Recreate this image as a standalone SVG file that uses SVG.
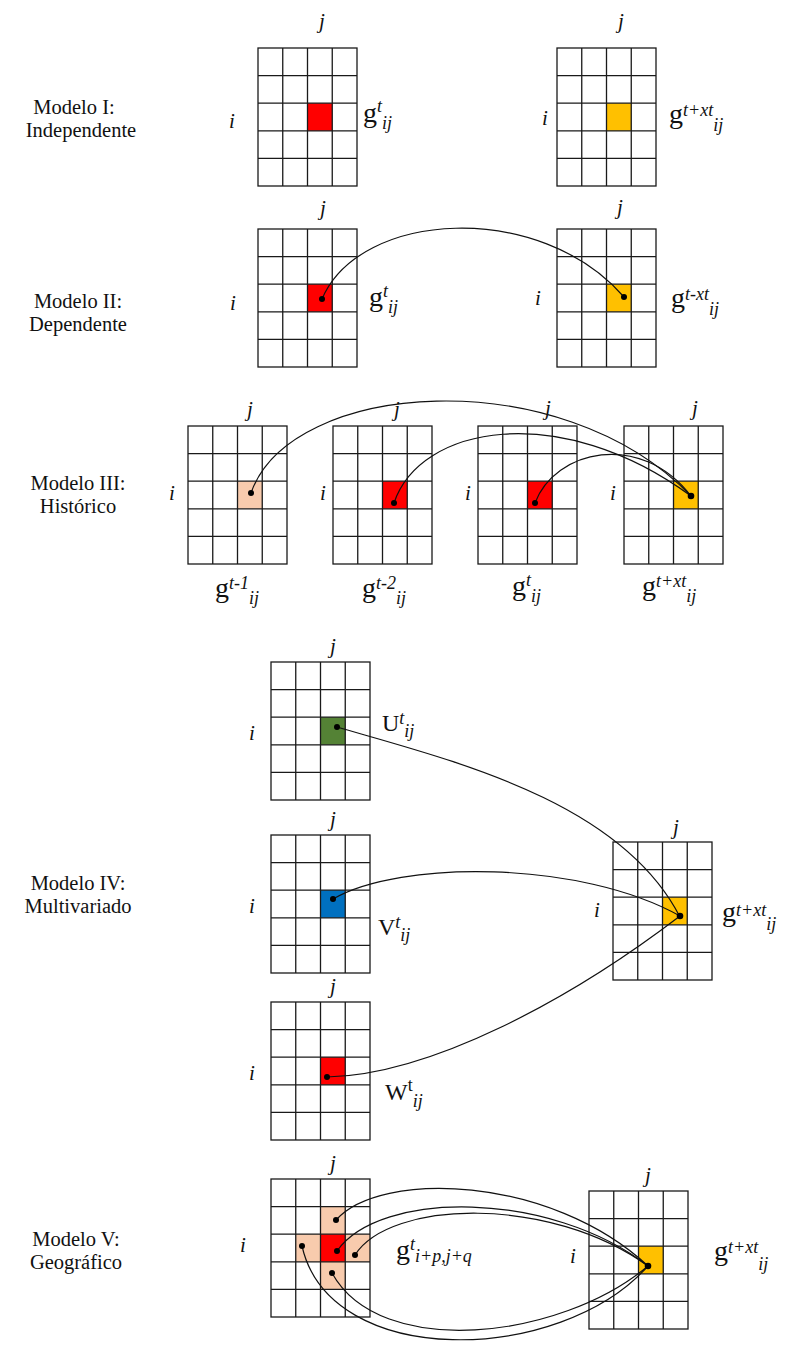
<svg xmlns="http://www.w3.org/2000/svg" xmlns:xlink="http://www.w3.org/1999/xlink" width="791" height="1348" viewBox="0 0 791 1348">
<style>
.lbl{font-family:"Liberation Serif","Times New Roman",serif;font-size:20.5px;text-anchor:middle;fill:#111}
.ij{font-family:"Liberation Serif","Times New Roman",serif;font-style:italic;font-size:21px;text-anchor:middle;fill:#111}
.g{font-family:"Liberation Serif","Times New Roman",serif;font-size:28px;fill:#111}
.L{font-size:24px}
.s{font-size:18px;font-style:italic}
.u{font-style:normal}
.red{fill:#FF0000}.org{fill:#FFC000}.pch{fill:#F8CBAD}.grn{fill:#548235}.blu{fill:#0070C0}
.con path{fill:none;stroke:#111;stroke-width:1.2}
.dot{fill:#000}
</style>
<defs>
<g id="grid" fill="none" stroke="#1a1a1a" stroke-width="1.3">
<rect x="0" y="0" width="99" height="138"/>
<path d="M24.75,0V138M49.5,0V138M74.25,0V138M0,27.6H99M0,55.2H99M0,82.8H99M0,110.4H99"/>
</g>
</defs>
<rect width="791" height="1348" fill="#fff"/>

<!-- Model labels -->
<g id="label-m1"><text class="lbl" x="74" y="114">Modelo I:</text><text class="lbl" x="81" y="137">Independente</text></g>
<g id="label-m2"><text class="lbl" x="78" y="308">Modelo II:</text><text class="lbl" x="78" y="331">Dependente</text></g>
<g id="label-m3"><text class="lbl" x="78" y="490">Modelo III:</text><text class="lbl" x="78" y="513">Histórico</text></g>
<g id="label-m4"><text class="lbl" x="78" y="890">Modelo IV:</text><text class="lbl" x="78" y="913">Multivariado</text></g>
<g id="label-m5"><text class="lbl" x="76" y="1246">Modelo V:</text><text class="lbl" x="76" y="1269">Geográfico</text></g>

<!-- Model I -->
<g id="m1-a">
<rect class="red" x="307.5" y="103.2" width="24.75" height="27.6"/>
<use xlink:href="#grid" x="258" y="48"/>
<text class="ij" x="322" y="28">j</text><text class="ij" x="232" y="128">i</text>
<text class="g" x="363" y="122">g<tspan class="s" dy="-10">t</tspan><tspan class="s" dy="17">ij</tspan></text>
</g>
<g id="m1-b">
<rect class="org" x="606.5" y="103.2" width="24.75" height="27.6"/>
<use xlink:href="#grid" x="557" y="48"/>
<text class="ij" x="621" y="28">j</text><text class="ij" x="545" y="125">i</text>
<text class="g" x="669" y="123">g<tspan class="s" dy="-7">t+xt</tspan><tspan class="s" dy="15">ij</tspan></text>
</g>

<!-- Model II -->
<g id="m2-a">
<rect class="red" x="307.5" y="284.2" width="24.75" height="27.6"/>
<use xlink:href="#grid" x="258" y="229"/>
<text class="ij" x="323" y="215">j</text><text class="ij" x="233" y="310">i</text>
<text class="g" x="369" y="306">g<tspan class="s" dy="-9">t</tspan><tspan class="s" dy="16">ij</tspan></text>
</g>
<g id="m2-b">
<rect class="org" x="606.5" y="284.2" width="24.75" height="27.6"/>
<use xlink:href="#grid" x="557" y="229"/>
<text class="ij" x="620" y="214">j</text><text class="ij" x="538" y="305">i</text>
<text class="g" x="671" y="307">g<tspan class="s" dy="-7">t-xt</tspan><tspan class="s" dy="15">ij</tspan></text>
</g>

<!-- Model III -->
<g id="m3-a">
<rect class="pch" x="237.5" y="481.2" width="24.75" height="27.6"/>
<use xlink:href="#grid" x="188" y="426"/>
<text class="ij" x="250" y="416">j</text><text class="ij" x="172" y="500">i</text>
<text class="g" x="215" y="597">g<tspan class="s" dy="-8">t-1</tspan><tspan class="s" dy="15">ij</tspan></text>
</g>
<g id="m3-b">
<rect class="red" x="382.5" y="481.2" width="24.75" height="27.6"/>
<use xlink:href="#grid" x="333" y="426"/>
<text class="ij" x="397" y="416">j</text><text class="ij" x="323" y="500">i</text>
<text class="g" x="362" y="597">g<tspan class="s" dy="-8">t-2</tspan><tspan class="s" dy="15">ij</tspan></text>
</g>
<g id="m3-c">
<rect class="red" x="527.5" y="481.2" width="24.75" height="27.6"/>
<use xlink:href="#grid" x="478" y="426"/>
<text class="ij" x="548" y="415">j</text><text class="ij" x="468" y="500">i</text>
<text class="g" x="512" y="595">g<tspan class="s" dy="-9">t</tspan><tspan class="s" dy="16">ij</tspan></text>
</g>
<g id="m3-d">
<rect class="org" x="673.5" y="481.2" width="24.75" height="27.6"/>
<use xlink:href="#grid" x="624" y="426"/>
<text class="ij" x="695" y="415">j</text><text class="ij" x="613" y="500">i</text>
<text class="g" x="642" y="595">g<tspan class="s" dy="-8">t+xt</tspan><tspan class="s" dy="15">ij</tspan></text>
</g>

<!-- Model IV -->
<g id="m4-u">
<rect class="grn" x="320.5" y="717.2" width="24.75" height="27.6"/>
<use xlink:href="#grid" x="271" y="662"/>
<text class="ij" x="333" y="653">j</text><text class="ij" x="252" y="740">i</text>
<text class="g L" x="382" y="731">U<tspan class="s" dy="-7">t</tspan><tspan class="s" dy="13">ij</tspan></text>
</g>
<g id="m4-v">
<rect class="blu" x="320.5" y="890.2" width="24.75" height="27.6"/>
<use xlink:href="#grid" x="271" y="835"/>
<text class="ij" x="333" y="826">j</text><text class="ij" x="252" y="913">i</text>
<text class="g L" x="378" y="935">V<tspan class="s" dy="-7">t</tspan><tspan class="s" dy="13">ij</tspan></text>
</g>
<g id="m4-w">
<rect class="red" x="320.5" y="1057.2" width="24.75" height="27.6"/>
<use xlink:href="#grid" x="271" y="1002"/>
<text class="ij" x="333" y="993">j</text><text class="ij" x="252" y="1080">i</text>
<text class="g L" x="385" y="1100">W<tspan class="s u" dy="-9">t</tspan><tspan class="s" dy="16">ij</tspan></text>
</g>
<g id="m4-g">
<rect class="org" x="662.5" y="897.2" width="24.75" height="27.6"/>
<use xlink:href="#grid" x="613" y="842"/>
<text class="ij" x="676" y="834">j</text><text class="ij" x="597" y="917">i</text>
<text class="g" x="722" y="921">g<tspan class="s" dy="-5">t+xt</tspan><tspan class="s" dy="14">ij</tspan></text>
</g>

<!-- Model V -->
<g id="m5-a">
<rect class="pch" x="295.75" y="1234.2" width="24.75" height="27.6"/>
<rect class="pch" x="345.25" y="1234.2" width="24.75" height="27.6"/>
<rect class="pch" x="320.5" y="1206.6" width="24.75" height="27.6"/>
<rect class="pch" x="320.5" y="1261.8" width="24.75" height="27.6"/>
<rect class="red" x="320.5" y="1234.2" width="24.75" height="27.6"/>
<use xlink:href="#grid" x="271" y="1179"/>
<text class="ij" x="333" y="1170">j</text><text class="ij" x="243" y="1252">i</text>
<text class="g" x="396" y="1259">g<tspan class="s" dy="-9">t</tspan><tspan class="s" dy="12">i+p,j+q</tspan></text>
</g>
<g id="m5-b">
<rect class="org" x="638.5" y="1246.2" width="24.75" height="27.6"/>
<use xlink:href="#grid" x="589" y="1191"/>
<text class="ij" x="648" y="1182">j</text><text class="ij" x="573" y="1263">i</text>
<text class="g" x="714" y="1260">g<tspan class="s" dy="-7">t+xt</tspan><tspan class="s" dy="17">ij</tspan></text>
</g>

<!-- Connectors -->
<g id="connectors" class="con">
<path d="M322,299 C360,210 540,200 624,297"/>
<path d="M251,493 C290,380 560,360 691,496"/>
<path d="M394,503 C420,425 560,400 691,496"/>
<path d="M535,503 C555,450 640,430 691,496"/>
<path d="M337,727 C450,760 620,800 680,917"/>
<path d="M333,899 C400,860 580,860 680,916"/>
<path d="M327,1077 C430,1075 570,1000 680,916"/>
<path d="M336,1220 C380,1170 550,1175 648,1266"/>
<path d="M337,1251 C380,1190 550,1190 648,1266"/>
<path d="M355,1255 C390,1200 550,1195 648,1266"/>
<path d="M332,1273 C380,1360 560,1340 648,1266"/>
<path d="M302,1246 C330,1370 560,1365 648,1266"/>
</g>

<!-- Dots -->
<g id="dots" class="dot">
<circle cx="322" cy="299" r="3"/><circle cx="624" cy="297" r="3"/>
<circle cx="251" cy="493" r="3"/><circle cx="394" cy="503" r="3"/><circle cx="535" cy="503" r="3"/><circle cx="691" cy="496" r="3.3"/>
<circle cx="337" cy="727" r="3"/><circle cx="333" cy="899" r="3"/><circle cx="327" cy="1077" r="3"/><circle cx="680" cy="916" r="3.3"/>
<circle cx="336" cy="1220" r="3"/><circle cx="302" cy="1246" r="3"/><circle cx="337" cy="1251" r="3"/><circle cx="355" cy="1255" r="3"/><circle cx="332" cy="1273" r="3"/><circle cx="648" cy="1266" r="3.3"/>
</g>
</svg>
